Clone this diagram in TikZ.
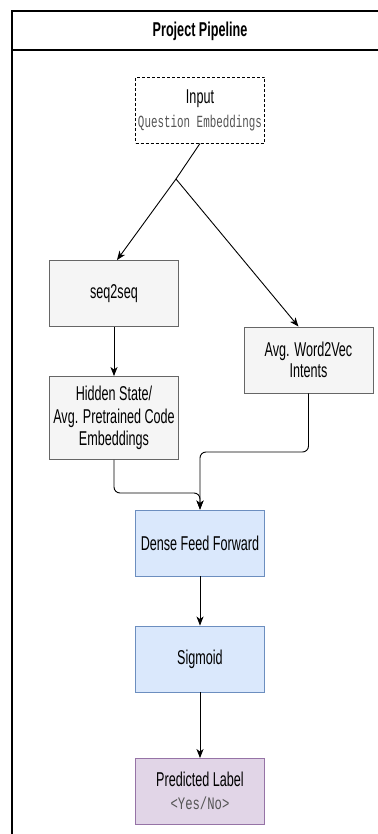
\documentclass[tikz,border=0pt]{standalone}
\usepackage{fontspec}
\setmainfont{Liberation Sans}[FakeStretch=0.63]
\newfontfamily\monoq{Liberation Mono}[FakeStretch=0.64]
\newfontfamily\monoy{Liberation Mono}[FakeStretch=0.7]
\usetikzlibrary{arrows.meta,calc}
\definecolor{grayfill}{HTML}{F5F5F5}
\definecolor{grayline}{HTML}{666666}
\definecolor{bluefill}{HTML}{DAE8FC}
\definecolor{blueline}{HTML}{6C8EBF}
\definecolor{purpfill}{HTML}{E1D5E7}
\definecolor{purpline}{HTML}{9673A6}
\definecolor{monogray}{HTML}{555555}
\tikzset{
  box/.style={draw, line width=0.9pt, minimum width=129pt, minimum height=66pt, inner sep=1pt, align=center, font=\fontsize{20}{22.5}\selectfont},
  graybox/.style={box, fill=grayfill, draw=grayline},
  bluebox/.style={box, fill=bluefill, draw=blueline},
  purpbox/.style={box, fill=purpfill, draw=purpline},
  inbox/.style={box, dashed, dash pattern=on 3pt off 2pt, draw=black, fill=white},
  conn/.style={line width=0.9pt, draw=black},
  arr/.style={conn, -{Stealth[length=9pt,width=7pt,inset=2.5pt]}},
  lbl/.style={font=\fontsize{20}{22}\selectfont, inner sep=0pt}
}
\begin{document}
\begin{tikzpicture}[x=1pt,y=-1pt]
\useasboundingbox (0,0) rectangle (377,834);
% frame
\draw[line width=1.2pt] (380,11) -- (12,11) -- (12,840);
\draw[line width=1.2pt] (12,50) -- (380,50);
\node[font=\bfseries\fontsize{20}{22}\selectfont] (title) at (200,31) {Project Pipeline};
% nodes
\node[inbox] (in) at (200,110) {};
\node[lbl] (inlbl) at (200,99) {Input};
\node[font=\monoq\fontsize{17}{18}\selectfont, text=monogray, inner sep=0pt] (inq) at (200,123) {Question Embeddings};
\node[graybox] (seq) at (114,293.5) {seq2seq};
\node[graybox, minimum height=83pt] (hid) at (114,418) {Hidden State/\\Avg. Pretrained Code\\Embeddings};
\node[graybox, font=\fontsize{20}{21.5}\selectfont] (avg) at (308.5,360) {Avg. Word2Vec\\Intents};
\node[bluebox] (dense) at (200,543) {Dense Feed Forward};
\node[bluebox] (sig) at (200,659) {Sigmoid};
\node[purpbox] (pred) at (200,791.5) {};
\node[lbl] (predlbl) at (200,779) {Predicted Label};
\node[font=\monoy\fontsize{17.5}{18}\selectfont, text=monogray, inner sep=0pt] (predyn) at (200,803) {<Yes/No>};
% connectors
\coordinate (split) at (176,179);
\draw[conn] (in.south) -- (split);
\draw[arr] (split) -- ([xshift=3pt]seq.north);
\draw[arr] (split) -- ([xshift=-10pt]avg.north);
\draw[arr] (seq.south) -- (hid.north);
\coordinate (m1) at (200,452);
\coordinate (m2) at (200,493);
\draw[arr, rounded corners=6pt] (avg.south) |- (m1) -- (dense.north);
\draw[arr, rounded corners=6pt] (hid.south) |- (m2) -- (dense.north);
\draw[arr] (dense.south) -- (sig.north);
\draw[arr] (sig.south) -- (pred.north);
\end{tikzpicture}
\end{document}
